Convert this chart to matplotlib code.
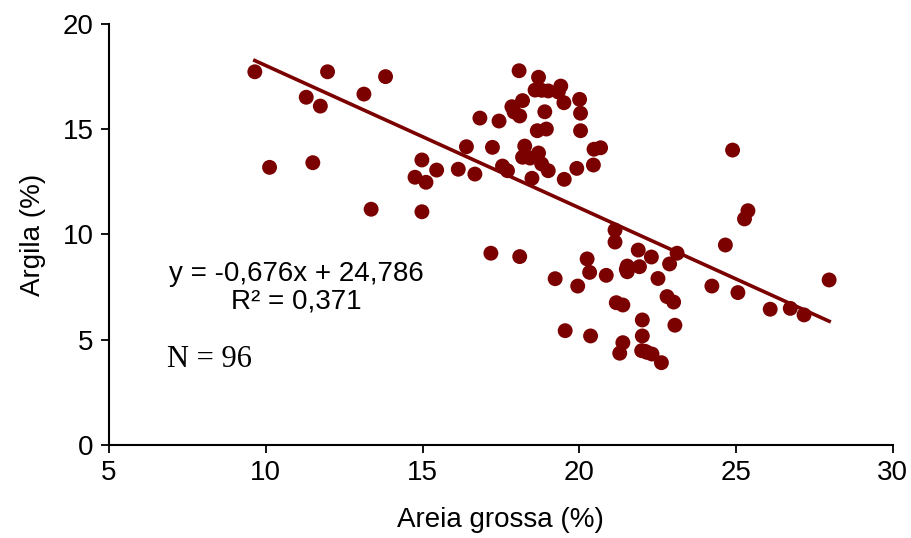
import matplotlib
matplotlib.use('Agg')
import matplotlib.pyplot as plt
import numpy as np

# Areia grossa (%) vs Argila (%)
areia = [9.65, 10.12, 11.29, 11.50, 11.74, 11.97, 13.13, 13.36, 13.82, 14.76,
         14.98, 14.98, 15.11, 15.45, 16.14, 16.40, 16.67, 16.83, 17.18, 17.23,
         17.44, 17.55, 17.71, 17.85, 17.92, 18.10, 18.08, 18.10, 18.19, 18.26,
         18.19, 18.43, 18.70, 18.80, 19.01, 18.49, 18.70, 18.59, 19.01, 19.41,
         19.33, 19.51, 20.01, 18.90, 20.04, 18.66, 18.95, 20.04, 19.52, 19.92,
         20.45, 20.47, 20.68, 19.23, 19.95, 19.55, 20.25, 20.33, 20.36, 20.86,
         21.14, 21.14, 21.53, 21.53, 21.88, 21.92, 22.30, 22.51, 22.88, 23.12,
         21.18, 21.39, 22.80, 23.01, 22.01, 23.05, 22.01, 21.39, 21.29, 21.99,
         22.16, 22.32, 22.62, 24.66, 25.38, 25.27, 24.23, 25.06, 26.09, 26.73,
         27.17, 27.97, 24.89, 18.80, 21.50, 22.10]
argila = [17.73, 13.19, 16.52, 13.41, 16.10, 17.73, 16.67, 11.20, 17.50, 12.72,
          13.54, 11.08, 12.48, 13.06, 13.10, 14.17, 12.87, 15.53, 9.11, 14.14,
          15.39, 13.25, 13.03, 16.07, 15.82, 15.63, 17.78, 8.95, 16.36, 14.20,
          13.67, 13.63, 13.87, 13.35, 13.03, 12.67, 17.47, 16.86, 16.82, 17.05,
          16.77, 16.26, 16.42, 15.83, 15.76, 14.93, 15.01, 14.93, 12.62, 13.14,
          13.30, 14.05, 14.12, 7.90, 7.55, 5.43, 8.84, 8.20, 5.18, 8.06,
          10.21, 9.64, 8.50, 8.23, 9.26, 8.47, 8.93, 7.91, 8.60, 9.11,
          6.76, 6.65, 7.05, 6.79, 5.94, 5.69, 5.18, 4.86, 4.36, 4.48,
          4.40, 4.32, 3.91, 9.50, 11.13, 10.74, 7.55, 7.24, 6.45, 6.49,
          6.18, 7.84, 14.01, 16.85, 8.35, 4.45]

slope = -0.676
intercept = 24.786
eq_text = "y = -0,676x + 24,786\nR² = 0,371"
n_text = "N = 96"

cor = '#7b0000'

plt.rcParams['font.family'] = ['Liberation Sans', 'DejaVu Sans']

fig = plt.figure(figsize=(9.11, 5.38), dpi=100)
ax = fig.add_axes([0.1197, 0.1729, 0.8603, 0.7825])

ax.scatter(areia, argila, s=115, color=cor, edgecolors='none', zorder=3)

xs = np.array([min(areia), max(areia)])
ax.plot(xs, slope * xs + intercept, color=cor, lw=2.6, zorder=2)

ax.set_xlim(5, 30)
ax.set_ylim(0, 20)
ax.set_xticks([5, 10, 15, 20, 25, 30])
ax.set_yticks([0, 5, 10, 15, 20])
ax.tick_params(labelsize=20, width=1.3, length=6, direction='out', pad=5)
ax.set_xlabel('Areia grossa (%)', fontsize=20, labelpad=15)
ax.set_ylabel('Argila (%)', fontsize=20, labelpad=12)

for s in ['top', 'right']:
    ax.spines[s].set_visible(False)
for s in ['left', 'bottom']:
    ax.spines[s].set_linewidth(1.5)

ax.text(10.98, 7.48, eq_text, fontsize=20, ha='center', va='center',
        multialignment='center', linespacing=1.1)
ax.text(6.85, 4.05, n_text, fontsize=22, ha='left', va='center',
        family=['Liberation Serif', 'DejaVu Serif'])

plt.savefig('out.png', dpi=100)
